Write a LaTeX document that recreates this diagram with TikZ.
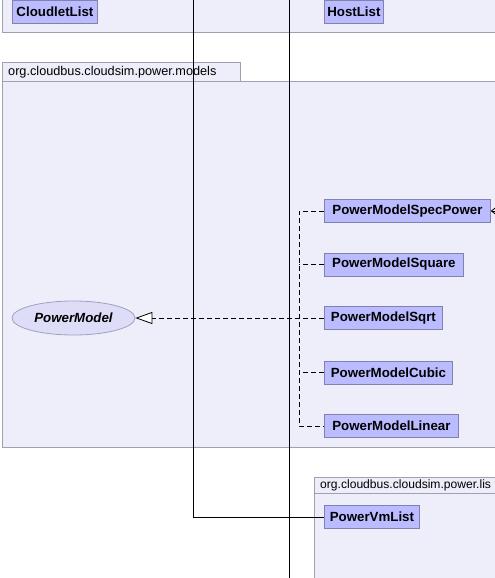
\documentclass[tikz,border=0pt]{standalone}
\usepackage{fontspec}
\setmainfont{Liberation Sans}
\usetikzlibrary{arrows.meta,shapes.geometric}
\definecolor{pkgfill}{RGB}{238,238,251}
\definecolor{pkgline}{RGB}{160,160,176}
\definecolor{nodefill}{RGB}{187,187,255}
\definecolor{nodeline}{RGB}{130,130,176}
\definecolor{ellfill}{RGB}{221,221,248}
\definecolor{ellline}{RGB}{160,160,190}
\tikzset{
  pkg/.style={fill=pkgfill,draw=pkgline,line width=0.8pt},
  classbox/.style={draw=nodeline,fill=nodefill,line width=0.8pt,anchor=west,
    minimum height=23,inner sep=0pt,
    font=\bfseries\fontsize{13.3}{15}\selectfont},
  pkglabel/.style={anchor=west,inner sep=0pt,font=\fontsize{12.7}{15}\selectfont},
  dep/.style={dash pattern=on 5pt off 3pt,line width=0.8pt},
  assoc/.style={line width=0.9pt}
}
\begin{document}
\begin{tikzpicture}[x=1pt,y=-1pt]
\useasboundingbox (0,0) rectangle (495,578);
\clip (0,0) rectangle (495,578);
% packages
\draw[pkg] (2,-10) rectangle (510,32);
\draw[pkg] (2,62) rectangle (240,81);
\draw[pkg] (2,81) rectangle (510,447);
\node[pkglabel] (pkgmodels) at (8,72) {org.cloudbus.cloudsim.power.models};
\draw[pkg] (314,477) rectangle (530,493);
\draw[pkg] (314,493) rectangle (530,600);
\node[pkglabel,font=\fontsize{12.1}{15}\selectfont] (pkglists) at (320,485.5) {org.cloudbus.cloudsim.power.lis};
% classes
\node[classbox,minimum width=85] (cloudlet) at (12,11.5) {CloudletList};
\node[classbox,minimum width=59] (host) at (324,11.5) {HostList};
\node[classbox,minimum width=166] (spec) at (324,211) {PowerModelSpecPower};
\node[classbox,minimum width=139] (square) at (324,264.5) {PowerModelSquare};
\node[classbox,minimum width=118] (sqrt) at (324,318) {PowerModelSqrt};
\node[classbox,minimum width=128] (cubic) at (324,372.5) {PowerModelCubic};
\node[classbox,minimum width=134] (linear) at (324,426) {PowerModelLinear};
\node[classbox,minimum width=95] (vmlist) at (324,517) {PowerVmList};
\node[ellipse,draw=ellline,fill=ellfill,line width=0.8pt,minimum width=123,minimum height=34,inner sep=0pt,
  font=\bfseries\itshape\fontsize{13.3}{15}\selectfont] (pm) at (73.5,318) {PowerModel};
% vertical association lines
\coordinate (topA) at (193,-5);
\coordinate (cornerA) at (193,517);
\coordinate (topB) at (289,-5);
\coordinate (botB) at (289,583);
\draw[assoc] (topA) -- (cornerA) -- (vmlist.west);
\draw[assoc] (topB) -- (botB);
% realization
\draw[dep,-{Triangle[length=17,width=12,fill=white,line width=0.8pt]}] (sqrt.west) -- (pm.east);
\draw[dep] (spec.west) -- ++(-25,0) |- (linear.west);
\draw[dep] (square.west) -- ++(-25,0);
\draw[dep] (cubic.west) -- ++(-25,0);
\coordinate (specin) at (505,211);
\draw[line width=0.8pt,-{Straight Barb[length=5,width=8]}] (specin) -- (spec.east);
\end{tikzpicture}
\end{document}
